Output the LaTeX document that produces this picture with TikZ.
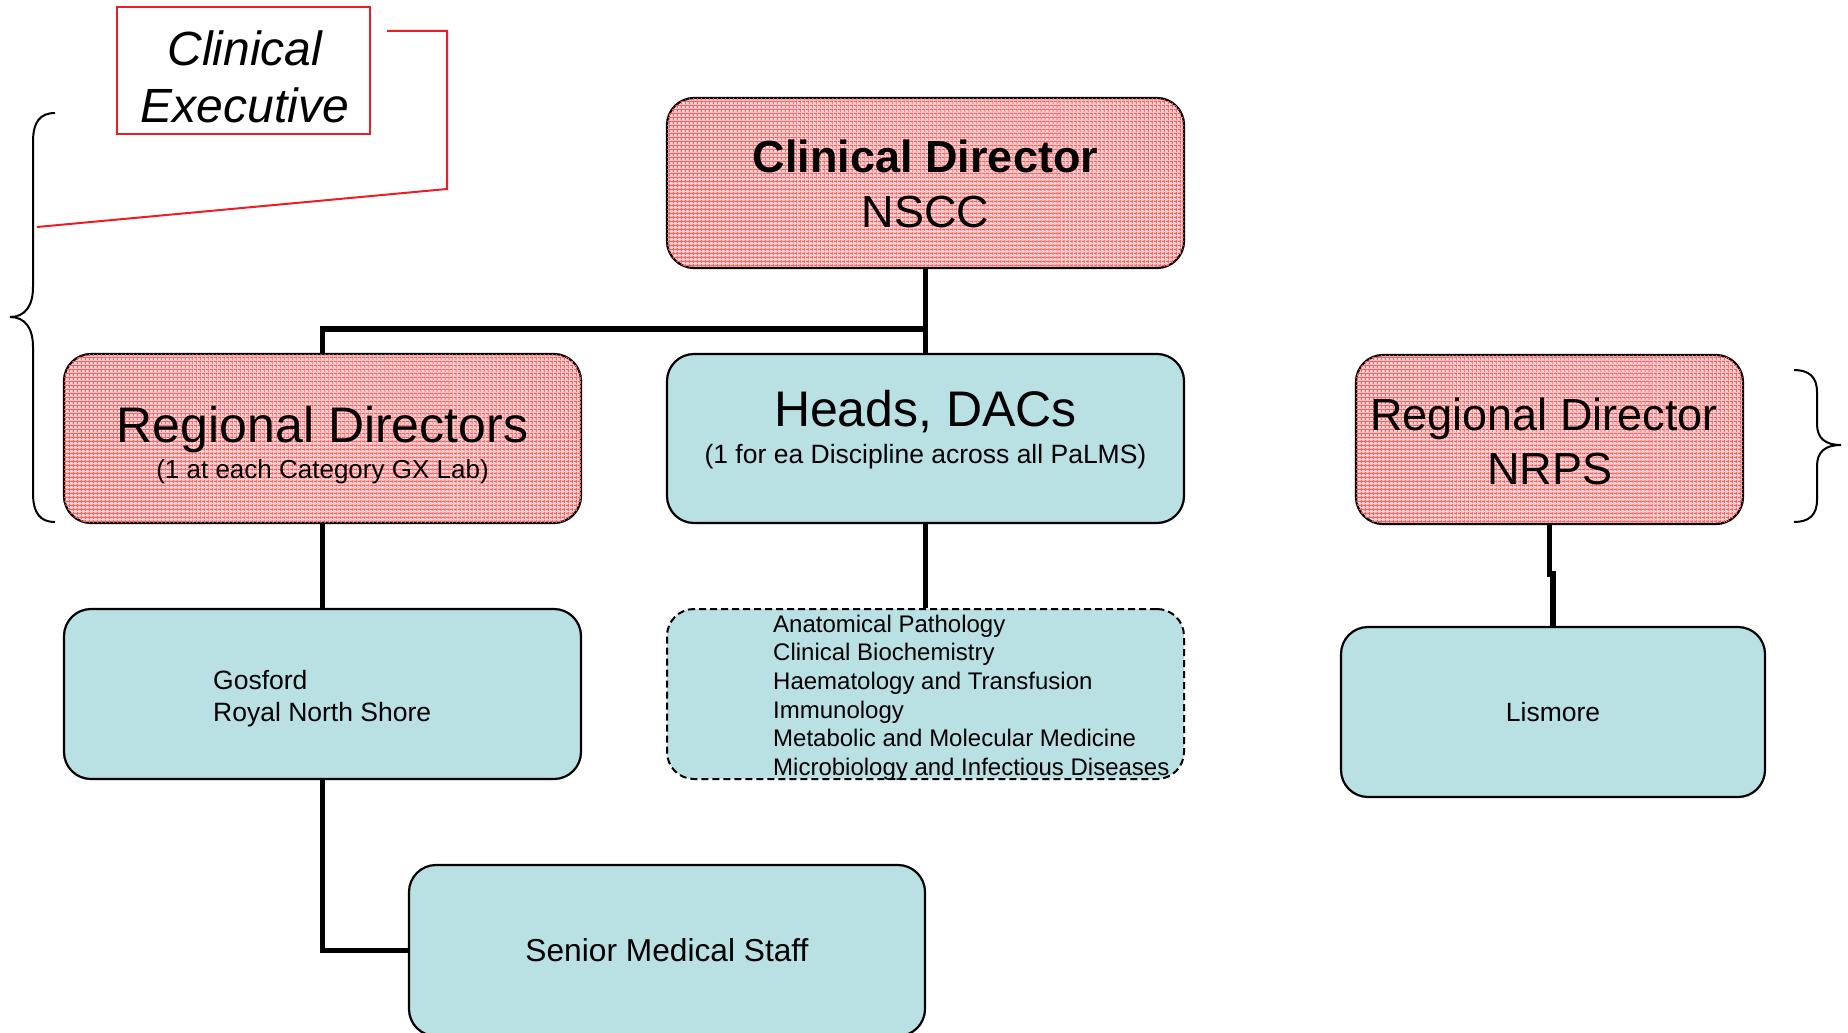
\documentclass[tikz,border=0pt]{standalone}
\usepackage{fontspec}
\setmainfont{Liberation Sans}
\usetikzlibrary{patterns.meta}
\definecolor{boxteal}{RGB}{185,224,227}
\definecolor{pinkbase}{RGB}{255,210,210}
\definecolor{gridred}{RGB}{245,95,95}
\definecolor{exred}{RGB}{238,28,36}
\begin{document}
\begin{tikzpicture}[x=1pt,y=-1pt,
  box/.style={draw=black, line width=2.2pt, rounded corners=27pt, inner sep=0pt},
  pinkbox/.style={box, fill=pinkbase,
    postaction={pattern={Lines[angle=0,distance=4pt,line width=1pt]}, pattern color=gridred},
    postaction={pattern={Lines[angle=90,distance=4pt,line width=1pt]}, pattern color=gridred}},
  tealbox/.style={box, fill=boxteal},
  dashbox/.style={box, fill=boxteal, dash pattern=on 7pt off 4pt, line width=2pt},
  txt/.style={anchor=base, inner sep=0pt},
  conn/.style={line width=5.4pt},
  brace/.style={line width=2pt},
]
\useasboundingbox (0,0) rectangle (1848,1033);

% ---- boxes ----
\node[draw=exred, line width=2pt, minimum width=253pt, minimum height=127pt, inner sep=0pt] (ce) at (243.5,70.5) {};
\node[pinkbox, minimum width=517pt, minimum height=170pt] (cd) at (925.5,183) {};
\node[pinkbox, minimum width=517pt, minimum height=169pt] (rd) at (322.5,438.5) {};
\node[tealbox, minimum width=517pt, minimum height=169pt] (heads) at (925.5,438.5) {};
\node[pinkbox, minimum width=387pt, minimum height=169pt] (nrps) at (1549.5,439.5) {};
\node[tealbox, minimum width=517pt, minimum height=170pt] (gos) at (322.5,694) {};
\node[dashbox, minimum width=517pt, minimum height=170pt] (disc) at (925.5,694) {};
\node[tealbox, minimum width=424pt, minimum height=170pt] (lis) at (1553,712) {};
\node[tealbox, minimum width=516pt, minimum height=171pt] (sms) at (667,950.5) {};

% ---- texts ----
\node[txt, font=\fontsize{48}{56}\selectfont\itshape] (ceT1) at (245,65.5) {Clinical};
\node[txt, font=\fontsize{48}{56}\selectfont\itshape] (ceT2) at (245,122) {Executive};
\node[txt, font=\fontsize{45}{54}\selectfont\bfseries] (cdT1) at (925.5,172.5) {Clinical Director};
\node[txt, font=\fontsize{45}{54}\selectfont] (cdT2) at (925.5,227) {NSCC};
\node[txt, font=\fontsize{50}{60}\selectfont] (rdT1) at (322.5,442) {Regional Directors};
\node[txt, font=\fontsize{26}{31}\selectfont] (rdT2) at (322.5,478) {(1 at each Category GX Lab)};
\node[txt, font=\fontsize{50}{60}\selectfont] (headsT1) at (925.5,426) {Heads, DACs};
\node[txt, font=\fontsize{26.5}{31}\selectfont] (headsT2) at (925.5,463) {(1 for ea Discipline across all PaLMS)};
\node[txt, font=\fontsize{45}{54}\selectfont] (nrpsT1) at (1544,430) {Regional Director};
\node[txt, font=\fontsize{45}{54}\selectfont] (nrpsT2) at (1550,484) {NRPS};
\node[txt, anchor=base west, font=\fontsize{26.5}{31}\selectfont] (gosT1) at (213,689.5) {Gosford};
\node[txt, anchor=base west, font=\fontsize{26.5}{31}\selectfont] (gosT2) at (213,721) {Royal North Shore};
\node[txt, font=\fontsize{26.5}{31}\selectfont] (lisT) at (1553,721) {Lismore};
\node[txt, font=\fontsize{31.7}{38}\selectfont] (smsT) at (667,961) {Senior Medical Staff};
\foreach \t [count=\i from 0] in {Anatomical Pathology,Clinical Biochemistry,Haematology and Transfusion,Immunology,Metabolic and Molecular Medicine,Microbiology and Infectious Diseases}
  \node[txt, anchor=base west, font=\fontsize{24}{29}\selectfont] (disc\i) at (773,632+28.7*\i) {\t};

% ---- connectors ----
\coordinate (j1) at (925.5,329);
\draw[conn] (cd.south) -- (heads.north);
\draw[conn] (j1) -| (rd.north);
\draw[conn] (rd.south) -- (gos.north);
\draw[conn] (heads.south) -- (disc.north);
\draw[conn] (gos.south) |- (sms.west);
\draw[conn] (nrps.south) -- ++(0,49) -| (lis.north);

% ---- red bracket from Clinical Executive ----
\coordinate (r1) at (387,31);
\coordinate (r2) at (447,31);
\coordinate (r3) at (447,189);
\coordinate (r4) at (37,227);
\draw[exred, line width=2pt] (r1) -- (r2) -- (r3) -- (r4);

% ---- braces ----
\draw[brace] (55,113) .. controls (40,113) and (33,122) .. (33,142) -- (33,287)
  .. controls (33,306) and (25,317) .. (10,317)
  .. controls (25,317) and (33,328) .. (33,347) -- (33,493)
  .. controls (33,513) and (40,522) .. (55,522);
\draw[brace] (1794,370) .. controls (1809,370) and (1817,377) .. (1817,392) -- (1817,424)
  .. controls (1817,438) and (1825,445) .. (1841,445)
  .. controls (1825,445) and (1817,452) .. (1817,466) -- (1817,500)
  .. controls (1817,515) and (1809,522) .. (1794,522);
\end{tikzpicture}
\end{document}
